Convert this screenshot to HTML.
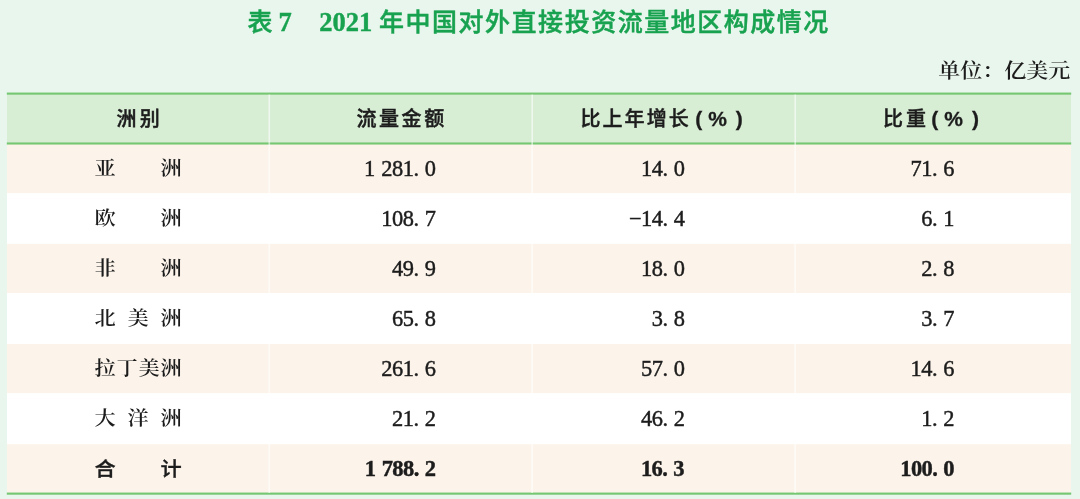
<!DOCTYPE html>
<html lang="zh-CN">
<head>
<meta charset="utf-8">
<title>表7 2021年中国对外直接投资流量地区构成情况</title>
<style>
html,body{margin:0;padding:0;}
body{width:1080px;height:499px;overflow:hidden;background:#e9f6ed;position:relative;
  font-family:"Liberation Serif","Noto Serif CJK SC",serif;color:#1c1c1c;}
#txt{position:absolute;left:0;top:0;width:1080px;height:499px;will-change:transform;}
#bg{position:absolute;left:0;top:0;width:1080px;height:499px;display:block;}
.t{position:absolute;white-space:nowrap;line-height:30px;height:30px;}
.title{top:8px;font-family:"Liberation Serif","Noto Sans CJK SC",sans-serif;font-weight:bold;font-size:25px;color:#18a250;}
.title.d{top:6.6px;font-size:26.5px;-webkit-text-stroke:0.4px #18a250;}
.title .cj{letter-spacing:1.52px;font-weight:500;-webkit-text-stroke:0.45px #18a250;}
.unit{font-family:"Liberation Serif","Noto Serif CJK SC",serif;font-weight:600;font-size:22px;color:#1c1c1c;transform:scaleY(0.915);transform-origin:50% 50%;}
.h{font-family:"Liberation Sans","Noto Sans CJK SC",sans-serif;font-weight:bold;font-size:21px;color:#1c1c1c;}
.h .cj{letter-spacing:2.05px;font-size:20px;font-weight:500;-webkit-text-stroke:0.45px #1c1c1c;}
.h b{font-weight:bold;display:inline-block;-webkit-text-stroke:0.3px #1c1c1c;}
.c1{font-family:"Liberation Serif","Noto Serif CJK SC",serif;font-weight:600;font-size:21.2px;left:94.6px;width:87.2px;transform:scaleY(0.93);transform-origin:50% 50%;text-align:justify;text-align-last:justify;}
.n{font-family:"Liberation Serif",serif;font-size:22.4px;text-align:right;width:200px;-webkit-text-stroke:0.45px #1c1c1c;letter-spacing:-0.45px;word-spacing:1.2px;}
.n.b{font-size:22.5px;letter-spacing:-0.6px;}
.n i{font-style:normal;margin-right:0.27em;}
.b{font-weight:bold;}
.c1.b{font-family:"Liberation Sans","Noto Sans CJK SC",sans-serif;font-weight:500;-webkit-text-stroke:0.35px #1c1c1c;}
</style>
</head>
<body>
<svg id="bg" width="1080" height="499" viewBox="0 0 1080 499">
  <rect x="0" y="0" width="1080" height="499" fill="#e9f6ed"/>
  <!-- header -->
  <rect x="7" y="93.5" width="1064" height="50" fill="#d7edd4"/>
  <!-- rows -->
  <rect x="7" y="143.5" width="1064" height="50" fill="#fcf4eb"/>
  <rect x="7" y="243.5" width="1064" height="50" fill="#fcf4eb"/>
  <rect x="7" y="343.5" width="1064" height="50" fill="#fcf4eb"/>
  <rect x="7" y="443.5" width="1064" height="50" fill="#fcf4eb"/>
  <rect x="7" y="193.1" width="1064" height="50.7" fill="#ffffff"/>
  <rect x="7" y="293.0" width="1064" height="51" fill="#ffffff"/>
  <rect x="7" y="393.1" width="1064" height="51.1" fill="#ffffff"/>
  <!-- green rules -->
  <rect x="6.8" y="92.55" width="1064.4" height="2.1" fill="#76c772"/>
  <rect x="6.8" y="142.45" width="1064.4" height="2.1" fill="#76c772"/>
  <rect x="6.8" y="492.55" width="1064.4" height="2.15" fill="#76c772"/>
  <g fill="#ffffff" fill-opacity="0.6">
    <rect x="268.5" y="94.6" width="1.6" height="398.4"/>
    <rect x="531.4" y="94.6" width="1.6" height="398.4"/>
    <rect x="794.4" y="94.6" width="1.6" height="398.4"/>
  </g>
</svg>
<div id="txt">

<div class="t title" style="left:247.5px;"><span class="cj" style="letter-spacing:0">表</span></div>
<div class="t title d" style="left:278.5px;">7</div>
<div class="t title d" style="left:319.3px;">2021</div>
<div class="t title" style="left:379px;"><span class="cj">年中国对外直接投资流量地区构成情况</span></div>
<div class="t unit" style="left:938.2px;top:57px;">单位：亿美元</div>

<div class="t h" style="left:116.5px;top:104px;"><span class="cj" style="letter-spacing:3.2px">洲别</span></div>
<div class="t h" style="left:356.5px;top:104px;"><span class="cj" style="letter-spacing:2.55px">流量金额</span></div>
<div class="t h" style="left:580.5px;top:104px;"><span class="cj">比上年增长</span><b style="margin-left:4.4px">(</b><b style="margin-left:6px">%</b><b style="margin-left:9px">)</b></div>
<div class="t h" style="left:883px;top:104px;"><span class="cj" style="letter-spacing:3px">比重</span><b style="margin-left:2.3px">(</b><b style="margin-left:6px">%</b><b style="margin-left:9px">)</b></div>

<div class="t c1" style="top:153.1px;">亚洲</div>
<div class="t c1" style="top:203.1px;">欧洲</div>
<div class="t c1" style="top:253.1px;">非洲</div>
<div class="t c1" style="top:303.1px;">北美洲</div>
<div class="t c1" style="top:353.1px;">拉丁美洲</div>
<div class="t c1" style="top:403.1px;">大洋洲</div>
<div class="t c1 b" style="top:453.5px;">合计</div>

<div class="t n" style="left:235.4px;top:154px;">1 281<i>.</i>0</div>
<div class="t n" style="left:235.4px;top:204px;">108<i>.</i>7</div>
<div class="t n" style="left:235.4px;top:254px;">49<i>.</i>9</div>
<div class="t n" style="left:235.4px;top:304px;">65<i>.</i>8</div>
<div class="t n" style="left:235.4px;top:354px;">261<i>.</i>6</div>
<div class="t n" style="left:235.4px;top:404px;">21<i>.</i>2</div>
<div class="t n b" style="left:235.4px;top:454px;">1 788<i>.</i>2</div>

<div class="t n" style="left:484.5px;top:154px;">14<i>.</i>0</div>
<div class="t n" style="left:484.5px;top:204px;">−14<i>.</i>4</div>
<div class="t n" style="left:484.5px;top:254px;">18<i>.</i>0</div>
<div class="t n" style="left:484.5px;top:304px;">3<i>.</i>8</div>
<div class="t n" style="left:484.5px;top:354px;">57<i>.</i>0</div>
<div class="t n" style="left:484.5px;top:404px;">46<i>.</i>2</div>
<div class="t n b" style="left:484px;top:454px;">16<i>.</i>3</div>

<div class="t n" style="left:754px;top:154px;">71<i>.</i>6</div>
<div class="t n" style="left:754px;top:204px;">6<i>.</i>1</div>
<div class="t n" style="left:754px;top:254px;">2<i>.</i>8</div>
<div class="t n" style="left:754px;top:304px;">3<i>.</i>7</div>
<div class="t n" style="left:754px;top:354px;">14<i>.</i>6</div>
<div class="t n" style="left:754px;top:404px;">1<i>.</i>2</div>
<div class="t n b" style="left:754px;top:454px;">100<i>.</i>0</div>
</div>
</body>
</html>
